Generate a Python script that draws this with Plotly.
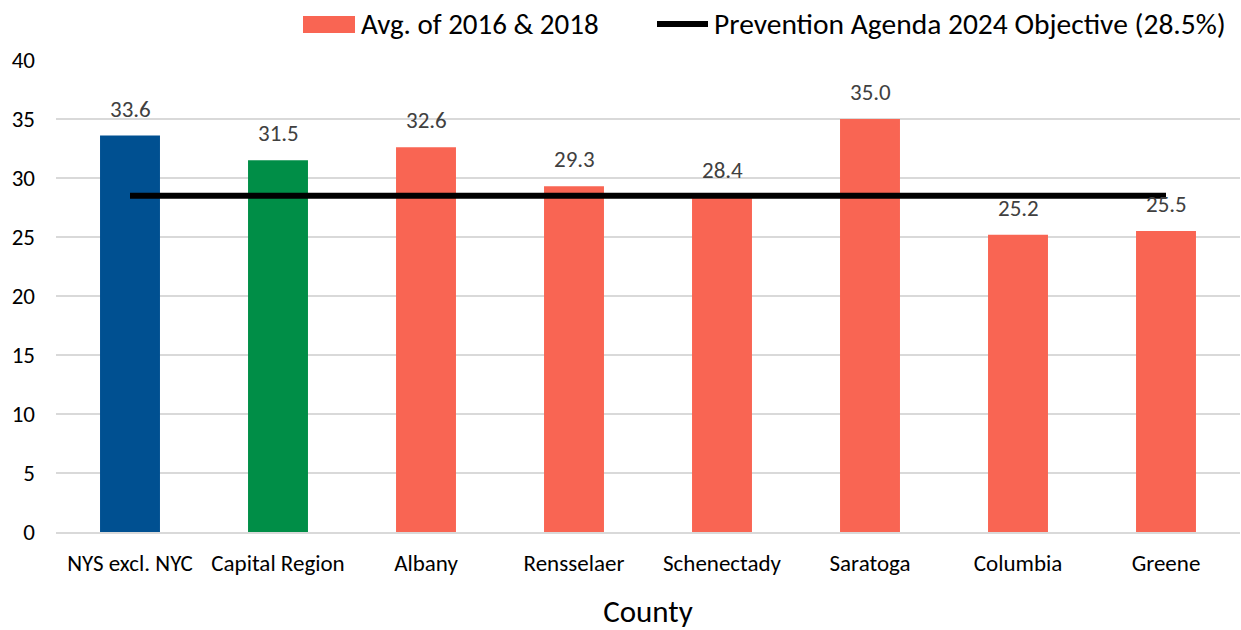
import plotly.graph_objects as go

categories = ["NYS excl. NYC", "Capital Region", "Albany", "Rensselaer",
              "Schenectady", "Saratoga", "Columbia", "Greene"]
values = [33.6, 31.5, 32.6, 29.3, 28.4, 35.0, 25.2, 25.5]
objective = 28.5
y_ticks = [0, 5, 10, 15, 20, 25, 30, 35, 40]
bar_series_name = "Avg. of 2016 & 2018"
line_series_name = "Prevention Agenda 2024 Objective (28.5%)"

FONT = "Carlito, Calibri, Lato, sans-serif"
BLUE = "#005091"
GREEN = "#008E47"
SALMON = "#F96553"
bar_colors = [BLUE, GREEN] + [SALMON] * (len(categories) - 2)

fig = go.Figure()

fig.add_trace(go.Bar(x=categories, y=values, marker=dict(color=bar_colors, line=dict(width=0)),
                     name=bar_series_name, showlegend=False, hoverinfo="x+y"))
fig.add_trace(go.Scatter(x=categories, y=[objective] * len(categories), mode="lines",
                         line=dict(color="black", width=6),
                         name=line_series_name, showlegend=False))

# data labels
for c, v in zip(categories, values):
    fig.add_annotation(x=c, y=v, text=f"{v:.1f}", showarrow=False,
                       yanchor="middle", yshift=27,
                       font=dict(family=FONT, size=23, color="#404040"))

# custom legend (paper coordinates relative to plot area)
L, R, T, B = 56, 1240, 60, 532
W, H = R - L, B - T
px = lambda x: (x - L) / W
py = lambda y: (B - y) / H

fig.add_shape(type="rect", xref="paper", yref="paper",
              x0=px(303), x1=px(355), y0=py(33), y1=py(16),
              fillcolor=SALMON, line=dict(width=0))
fig.add_annotation(xref="paper", yref="paper", x=px(359), y=py(24),
                   xanchor="left", yanchor="middle", showarrow=False,
                   text=bar_series_name, font=dict(family=FONT, size=29, color="black"))
fig.add_shape(type="line", xref="paper", yref="paper",
              x0=px(657), x1=px(708), y0=py(24), y1=py(24),
              line=dict(color="black", width=6))
fig.add_annotation(xref="paper", yref="paper", x=px(712), y=py(24),
                   xanchor="left", yanchor="middle", showarrow=False,
                   text=line_series_name, font=dict(family=FONT, size=29.5, color="black"))

fig.update_layout(
    width=1241, height=630,
    margin=dict(l=L, r=1241 - R, t=T, b=630 - B),
    paper_bgcolor="white", plot_bgcolor="white",
    bargap=0.595, showlegend=False,
    font=dict(family=FONT, size=23, color="black"),
    xaxis=dict(title=dict(text="County", font=dict(family=FONT, size=31), standoff=24),
               tickfont=dict(family=FONT, size=23, color="black"),
               showline=True, linecolor="#D9D9D9", linewidth=1.5, ticks="",
               ticklabelstandoff=10, automargin=False),
    yaxis=dict(range=[0, 40], tickvals=y_ticks, showgrid=True, gridcolor="#D9D9D9",
               gridwidth=1.5, zeroline=False, ticks="", ticklabelstandoff=20,
               tickfont=dict(family=FONT, size=23, color="black"), automargin=False),
)

fig.write_html("out.html", config={"displayModeBar": False},
               post_script="document.body.style.margin='0';document.body.style.overflow='hidden';")
